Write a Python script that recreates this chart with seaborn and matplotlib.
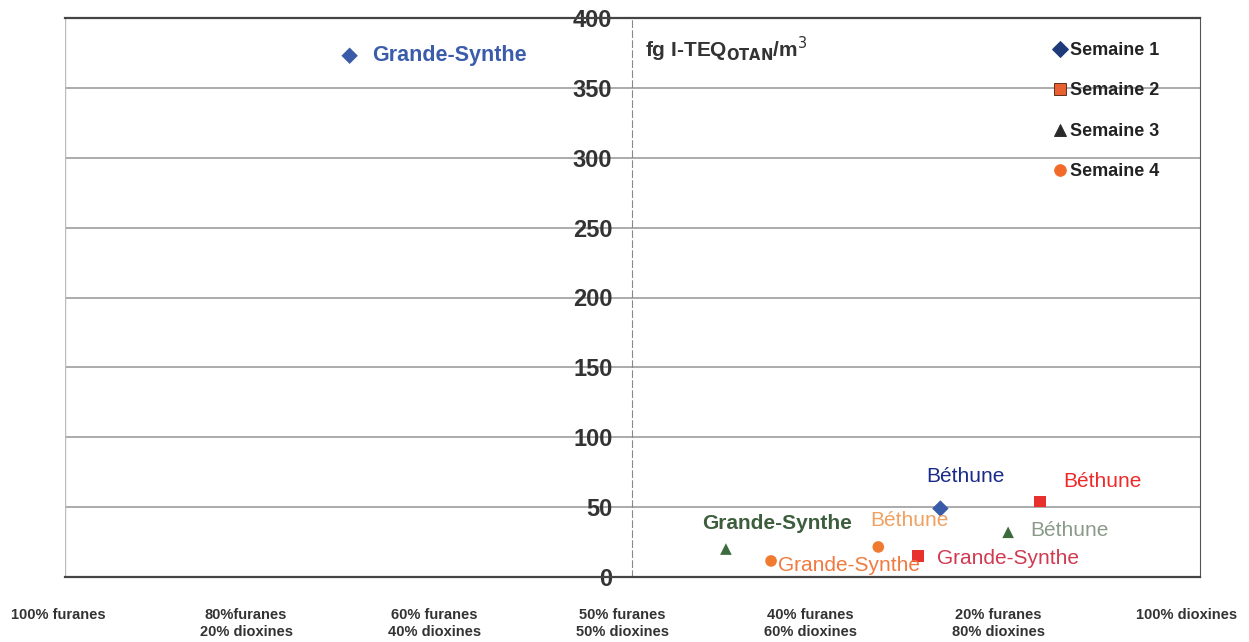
import matplotlib
matplotlib.use("Agg")
import pandas as pd
import seaborn as sns
import matplotlib.pyplot as plt

# x = position on the furanes/dioxines scale (0 = 100% furanes ... 6 = 100% dioxines)
semaine = ["Semaine 1", "Semaine 1", "Semaine 2", "Semaine 2",
           "Semaine 3", "Semaine 3", "Semaine 4", "Semaine 4"]
site = ["Grande-Synthe", "Béthune", "Béthune", "Grande-Synthe",
        "Grande-Synthe", "Béthune", "Grande-Synthe", "Béthune"]
ratio_pos = [1.55, 4.69, 5.22, 4.57, 3.55, 5.05, 3.79, 4.36]
teq = [373, 49, 54, 15, 20, 32, 11.5, 21.5]

x_labels = ["100% furanes", "80%furanes\n20% dioxines", "60% furanes\n40% dioxines",
            "50% furanes\n50% dioxines", "40% furanes\n60% dioxines",
            "20% furanes\n80% dioxines", "100% dioxines"]
y_ticks = [0, 50, 100, 150, 200, 250, 300, 350, 400]

data = pd.DataFrame({"Semaine": semaine, "Site": site, "x": ratio_pos, "teq": teq})

sns.set_style("white")
plt.rcParams['font.family'] = ['Liberation Sans', 'DejaVu Sans']

palette = {"Semaine 1": "#3a5ca8", "Semaine 2": "#e8302e",
           "Semaine 3": "#3d6b3d", "Semaine 4": "#f07a30"}
markers = {"Semaine 1": "D", "Semaine 2": "s", "Semaine 3": "^", "Semaine 4": "o"}

fig = plt.figure(figsize=(12.49, 6.42), dpi=100)
ax = fig.add_axes([65 / 1249, 65 / 642, (1200 - 65) / 1249, (624 - 65) / 642])

sns.scatterplot(data=data, x="x", y="teq", hue="Semaine", style="Semaine",
                palette=palette, markers=markers, s=70, edgecolor="none", ax=ax)

ax.set_xlim(0.037, 6.07)
ax.set_ylim(0, 400)
ax.set_yticks(y_ticks)
for v in y_ticks[1:-1]:
    ax.axhline(v, color="#ababab", lw=1.4, zorder=0)

# y axis drawn in the middle of the chart
ax.spines["left"].set_position(("data", 3.05))
ax.spines["left"].set_color("#888888")
ax.spines["left"].set_linestyle((0, (6, 3)))
ax.spines["top"].set_color("#444444")
ax.spines["top"].set_linewidth(1.6)
ax.spines["bottom"].set_color("#444444")
ax.spines["bottom"].set_linewidth(1.6)
ax.spines["right"].set_color("#555555")
ax.axvline(0.037, color="#bbbbbb", lw=1.0)
ax.tick_params(axis="y", length=6, color="#555555", labelsize=17, labelcolor="#333333", pad=8)
for t in ax.get_yticklabels():
    t.set_fontweight("bold")
ax.set_xticks([])
ax.set_xlabel("")
ax.set_ylabel("")

ax.text(3.12, 388, r"fg I-TEQ$_{\mathbf{OTAN}}$/m$^3$", fontsize=15, fontweight="bold",
        color="#333333", va="top", ha="left")

# bottom category labels
trans = matplotlib.transforms.blended_transform_factory(ax.transData, fig.transFigure)
for i, lab in enumerate(x_labels):
    ax.text(i, 34 / 642, lab, transform=trans, ha="center", va="top", fontsize=10.5,
            fontweight="bold", color="#333333", clip_on=False, linespacing=1.25)

# point labels
notes = [
    ("Grande-Synthe", 22, 0, "left", "#3a5cab", "bold", 15.5),
    ("Béthune", 25, 32, "center", "#1a2a8a", "normal", 15),
    ("Béthune", 62, 20, "center", "#ee2a2a", "normal", 15),
    ("Grande-Synthe", 19, -2, "left", "#d03a50", "normal", 15),
    ("Grande-Synthe", 51, 26, "center", "#3d5e3d", "bold", 15),
    ("Béthune", 22, 2, "left", "#8a9a8a", "normal", 15),
    ("Grande-Synthe", 7, -5, "left", "#f07a40", "normal", 15),
    ("Béthune", 31, 26, "center", "#f0a060", "normal", 15),
]
for (txt, dx, dy, ha, col, fw, fs), xv, yv in zip(notes, ratio_pos, teq):
    ax.annotate(txt, (xv, yv), xytext=(dx, dy), textcoords="offset pixels",
                ha=ha, va="center", color=col, fontweight=fw, fontsize=fs)

leg = ax.legend(loc="upper left", bbox_to_anchor=(0.862, 0.97), frameon=False,
                fontsize=13, labelspacing=1.3, handletextpad=0.1, handlelength=1.0,
                borderaxespad=0)
leg_face = ["#1f3a7a", "#e86030", "#2a2a2a", "#f26a2a"]
leg_edge = ["#1f3a7a", "#5a2a1a", "#2a2a2a", "#f26a2a"]
for h, fc, ec in zip(leg.legend_handles, leg_face, leg_edge):
    h.set_markerfacecolor(fc)
    h.set_markeredgecolor(ec)
for t in leg.get_texts():
    t.set_fontweight("bold")
    t.set_color("#222222")

fig.savefig("out.png", dpi=100)
